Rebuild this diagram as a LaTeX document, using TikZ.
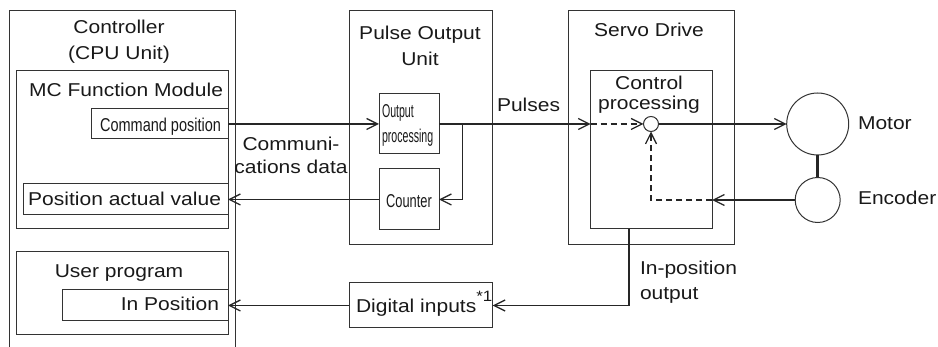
\documentclass[tikz,border=0pt]{standalone}
\usepackage{fontspec}
\setmainfont{Liberation Sans}[FakeStretch=1.13]
\newfontfamily\plainfont{Liberation Sans}
\usepackage{graphicx}
\usetikzlibrary{arrows.meta}
\begin{document}
\begin{tikzpicture}[x=1pt,y=-1pt,
  every node/.style={font=\fontsize{18.6}{26}\selectfont, inner sep=0pt, outer sep=0pt, text=black!90},
  boxline/.style={draw=black!80, line width=1pt},
  box/.style={boxline, anchor=north west},
  disc/.style={boxline, circle},
  lbl/.style={anchor=base},
  lblr/.style={anchor=base east},
  lbll/.style={anchor=base west},
  conn/.style={draw=black!85, line width=1.3pt, -{Straight Barb[length=11pt,width=11pt,line width=1.3pt]}},
  dconn/.style={conn, dash pattern=on 6pt off 4pt},
  shaft/.style={draw=black!85, line width=3pt}
]
\useasboundingbox (0,0) rectangle (938,347);
% controller outer frame (open at bottom)
\draw[boxline] (9,347) -- (9,10.7) -- (235,10.7) -- (235,347);
% boxes
\node[box, minimum width=212pt, minimum height=158.3pt] (mc) at (16,70.7) {};
\node[box, minimum width=137pt, minimum height=30pt] (cmd) at (91,109) {};
\node[box, minimum width=205pt, minimum height=31pt] (pav) at (23,184) {};
\node[box, minimum width=212pt, minimum height=83pt] (up) at (16,252) {};
\node[box, minimum width=166pt, minimum height=31pt] (inpos) at (62,290) {};
\node[box, minimum width=143.7pt, minimum height=234.3pt] (puo) at (349,10.7) {};
\node[box, minimum width=60pt, minimum height=60pt] (outp) at (379,94) {};
\node[box, minimum width=60pt, minimum height=61pt] (counter) at (379,169) {};
\node[box, minimum width=143.7pt, minimum height=45pt] (dig) at (349,283) {};
\node[box, minimum width=166pt, minimum height=234.3pt] (servo) at (568,10.7) {};
\node[box, minimum width=121.3pt, minimum height=158.3pt] (ctrlp) at (590.7,70.7) {};
\node[disc, minimum size=15pt] (sum) at (651,124) {};
\node[disc, minimum size=62pt] (motor) at (817.7,124) {};
\node[disc, minimum size=45pt] (encoder) at (817.7,200) {};
\coordinate (br) at (462.7,124);
\coordinate (ipx) at (629,0);
% texts
\node[lbl] (t1) at (119,34) {Controller};
\node[lbl] (t2) at (119,60) {(CPU Unit)};
\node[lblr] (t3) at (223,97) {MC Function Module};
\node[lblr] (t4) at (221,131.5) {\scalebox{0.78}[1]{\plainfont Command position}};
\node[lblr] (t5) at (221,205.5) {Position actual value};
\node[lbl] (t6) at (119,278) {User program};
\node[lblr] (t7) at (219,311) {In Position};
\node[lbl] (t8) at (291,150.5) {Communi-};
\node[lbl] (t9) at (291,173.5) {cations data};
\node[lbl] (t10) at (420,39.5) {Pulse Output};
\node[lbl] (t11) at (420,66) {Unit};
\node[lbll] (t12) at (382,117.5) {\scalebox{0.57}[1]{\plainfont Output}};
\node[lbll] (t13) at (382,142.5) {\scalebox{0.57}[1]{\plainfont processing}};
\node[lbl] (t14) at (409,208) {\scalebox{0.69}[1]{\plainfont Counter}};
\node[lbll] (t15) at (497,111.5) {Pulses};
\node[lbll] (t16) at (356,312.3) {Digital inputs\raisebox{11pt}{\fontsize{15}{15}\selectfont *1}};
\node[lbl] (t17) at (649,37) {Servo Drive};
\node[lbl] (t18) at (649,90) {Control};
\node[lbl] (t19) at (649,110) {processing};
\node[lbll] (t20) at (858,129.3) {Motor};
\node[lbll] (t21) at (858,205) {Encoder};
\node[lbll] (t22) at (640,275) {In-position};
\node[lbll] (t23) at (640,300) {output};
% connectors
\draw[conn] (cmd.east) -- (cmd.east -| outp.west);
\draw[conn] (outp.east) -- (outp.east -| ctrlp.west);
\draw[conn] (br) |- (counter.east);
\draw[conn] (counter.west) -- (counter.west -| pav.east);
\draw[dconn] (outp.east -| ctrlp.west) -- (sum.west);
\draw[conn] (sum.east) -- (motor.west);
\draw[shaft] (motor.south) -- (encoder.north);
\draw[conn] (encoder.west) -- (encoder.west -| ctrlp.east);
\draw[dconn] (encoder.west -| ctrlp.east) -| (sum.south);
\draw[conn] (ctrlp.south -| ipx) |- (dig.east);
\draw[conn] (dig.west) -- (dig.west -| inpos.east);
\end{tikzpicture}
\end{document}
